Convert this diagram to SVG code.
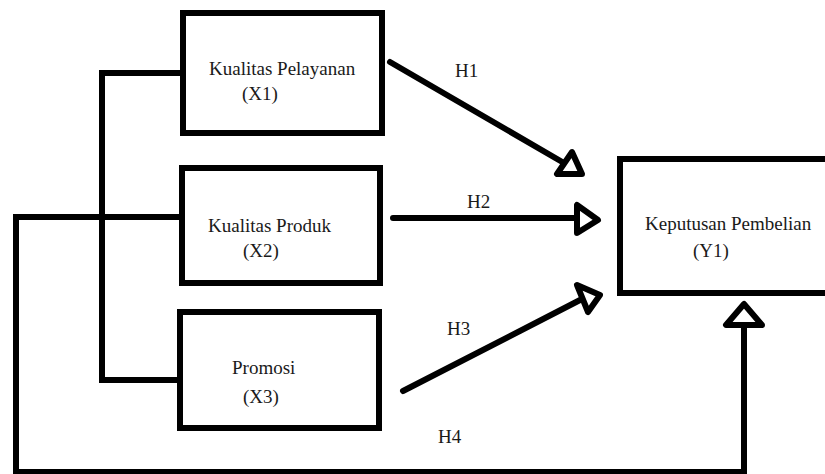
<svg xmlns="http://www.w3.org/2000/svg" width="825" height="474" viewBox="0 0 825 474">
<style>
.box{fill:#fff;stroke:#000;stroke-width:6}
.ln{fill:none;stroke:#000;stroke-width:6;stroke-linecap:round;stroke-linejoin:miter}
.ah{fill:#fff;stroke:#000;stroke-width:6;stroke-linejoin:round}
</style>
<rect width="825" height="474" fill="#fff"/>
<g id="connectors">
<path class="ln" d="M182,73 H102 V380 H180" stroke-linecap="butt"/>
<path class="ln" d="M182,217 H16 V472 H744 V325" stroke-linecap="butt"/>
<polygon class="ah" points="744,304 726,325 762,325"/>
<line class="ln" x1="390" y1="62" x2="564" y2="163"/>
<polygon class="ah" points="572,152 557,174 582,174"/>
<line class="ln" x1="393" y1="218" x2="577" y2="218"/>
<polygon class="ah" points="577,205 577,233 598,220"/>
<line class="ln" x1="403" y1="391" x2="582" y2="299"/>
<polygon class="ah" points="577,285 600,295 588,312"/>
<text font-family="Liberation Serif" font-size="19" fill="#1a1a1a" x="455" y="77">H1</text>
<text font-family="Liberation Serif" font-size="19" fill="#1a1a1a" x="467" y="208">H2</text>
<text font-family="Liberation Serif" font-size="19" fill="#1a1a1a" x="447" y="335">H3</text>
<text font-family="Liberation Serif" font-size="19" fill="#1a1a1a" x="438" y="443">H4</text>
</g>
<g id="x1">
<rect class="box" x="183" y="13" width="199" height="120"/>
<text font-family="Liberation Serif" font-size="19" fill="#1a1a1a" x="209" y="75">Kualitas Pelayanan</text>
<text font-family="Liberation Serif" font-size="19" fill="#1a1a1a" x="242" y="100">(X1)</text>
</g>
<g id="x2">
<rect class="box" x="182" y="168" width="198" height="115"/>
<text font-family="Liberation Serif" font-size="19" fill="#1a1a1a" x="208" y="232">Kualitas Produk</text>
<text font-family="Liberation Serif" font-size="19" fill="#1a1a1a" x="243" y="257">(X2)</text>
</g>
<g id="x3">
<rect class="box" x="180" y="312" width="199" height="116"/>
<text font-family="Liberation Serif" font-size="19" fill="#1a1a1a" x="232" y="374">Promosi</text>
<text font-family="Liberation Serif" font-size="19" fill="#1a1a1a" x="243" y="403">(X3)</text>
</g>
<g id="y1">
<rect class="box" x="620" y="159" width="220" height="134"/>
<text font-family="Liberation Serif" font-size="19" fill="#1a1a1a" x="645" y="230">Keputusan Pembelian</text>
<text font-family="Liberation Serif" font-size="19" fill="#1a1a1a" x="693" y="257">(Y1)</text>
</g>
</svg>
